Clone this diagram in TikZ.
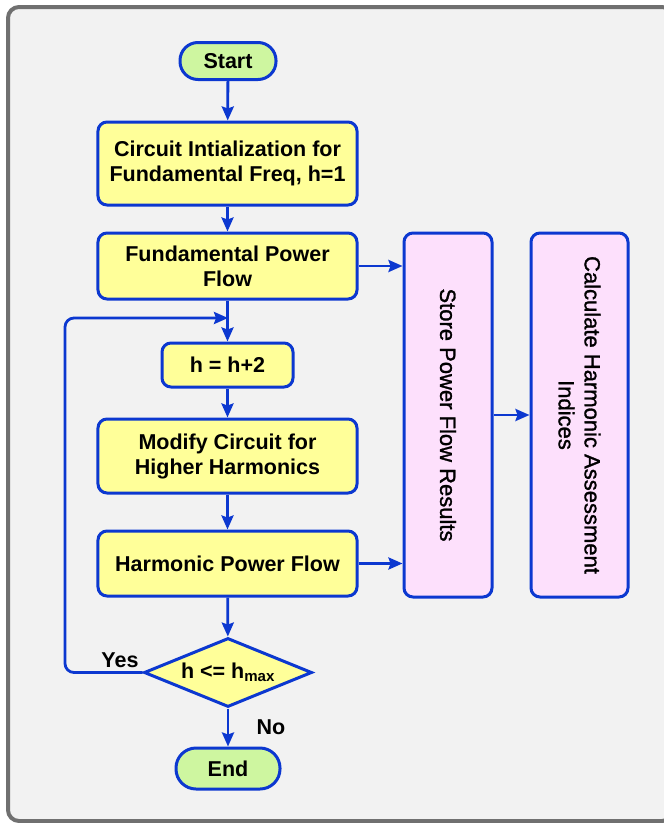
\documentclass[tikz,border=0pt]{standalone}
\usepackage{fontspec}
\setmainfont{Liberation Sans}
\newfontface\vface[RawFeature={embolden=1.3}]{Liberation Sans}
\usetikzlibrary{arrows.meta,shapes.geometric}
\definecolor{bl}{RGB}{12,56,208}
\definecolor{yfill}{RGB}{255,255,153}
\definecolor{gfill}{RGB}{206,246,160}
\definecolor{pfill}{RGB}{253,224,252}
\definecolor{bgc}{RGB}{242,242,242}
\definecolor{frm}{RGB}{112,112,112}
\tikzset{
  procbox/.style={draw=bl, line width=3bp, fill=yfill, rounded corners=9bp, inner sep=0pt, align=center,
    font=\fontsize{21.5bp}{25bp}\selectfont\bfseries},
  pill/.style={draw=bl, line width=3bp, fill=gfill, rounded corners=18bp, inner sep=0pt,
    font=\fontsize{21.5bp}{25bp}\selectfont\bfseries},
  tallbox/.style={draw=bl, line width=3bp, fill=pfill, rounded corners=9bp, inner sep=0pt},
  vtext/.style={rotate=-90, align=center, font=\fontsize{22bp}{26bp}\vface},
  decision/.style={draw=bl, line width=3bp, fill=yfill, diamond, aspect=2.43, inner sep=1bp,
    minimum width=168bp, minimum height=69bp, font=\fontsize{21.5bp}{25bp}\selectfont\bfseries},
  conn/.style={draw=bl, line width=2.8bp, -{Stealth[length=14bp,width=12bp,inset=2bp]}},
  lbl/.style={font=\fontsize{21.5bp}{25bp}\selectfont\bfseries}
}
\begin{document}
\begin{tikzpicture}[x=1bp,y=-1bp]
\useasboundingbox (0,0) rectangle (664,823);
\draw[frm, line width=4bp, fill=bgc, rounded corners=11bp] (8,7) rectangle (673,821);

\node[pill, minimum width=96bp, minimum height=37bp] (start) at (228,61) {Start};
\node[procbox, minimum width=259bp, minimum height=83bp] (init) at (227.5,163.5) {Circuit Intialization for\\Fundamental Freq, h=1};
\node[procbox, minimum width=259bp, minimum height=66bp] (fpf) at (227.5,266) {Fundamental Power\\Flow};
\node[procbox, minimum width=131bp, minimum height=44bp] (hinc) at (227.5,365) {h = h+2};
\node[procbox, minimum width=259bp, minimum height=74bp] (mod) at (227.5,456) {Modify Circuit for\\Higher Harmonics};
\node[procbox, minimum width=259bp, minimum height=65bp] (hpf) at (227.5,563.5) {Harmonic Power Flow};
\node[decision] (dec) at (228,672.5) {h <= h\textsubscript{max}};
\node[pill, minimum width=104bp, minimum height=41bp, rounded corners=20bp] (end) at (228,768.5) {End};

\node[tallbox, minimum width=88bp, minimum height=364bp] (store) at (448,415) {};
\node[vtext] at (store.center) {Store Power Flow Results};
\node[tallbox, minimum width=97bp, minimum height=364bp] (calc) at (579.5,415) {};
\node[vtext] at (calc.center) {Calculate Harmonic Assessment\\Indices};

\coordinate (j) at (228,318);
\coordinate (lb) at (65,672.5);
\coordinate (lt) at (65,318);

\draw[conn] (start) -- (init);
\draw[conn] (init) -- (fpf);
\draw[conn] (fpf) -- (hinc);
\draw[conn] (hinc) -- (mod);
\draw[conn] (mod) -- (hpf);
\draw[conn] (hpf) -- (dec);
\draw[conn] (dec) -- (end);
\draw[conn] (fpf.east) -- (fpf.east -| store.west);
\draw[conn] (hpf.east) -- (hpf.east -| store.west);
\draw[conn] (store.east) -- (calc.west);
\draw[conn, rounded corners=9bp] (dec.west) -- (lb) -- (lt) -- (j);

\node[lbl] (yes) at (120,660) {Yes};
\node[lbl] (no) at (271,727) {No};
\end{tikzpicture}
\end{document}
